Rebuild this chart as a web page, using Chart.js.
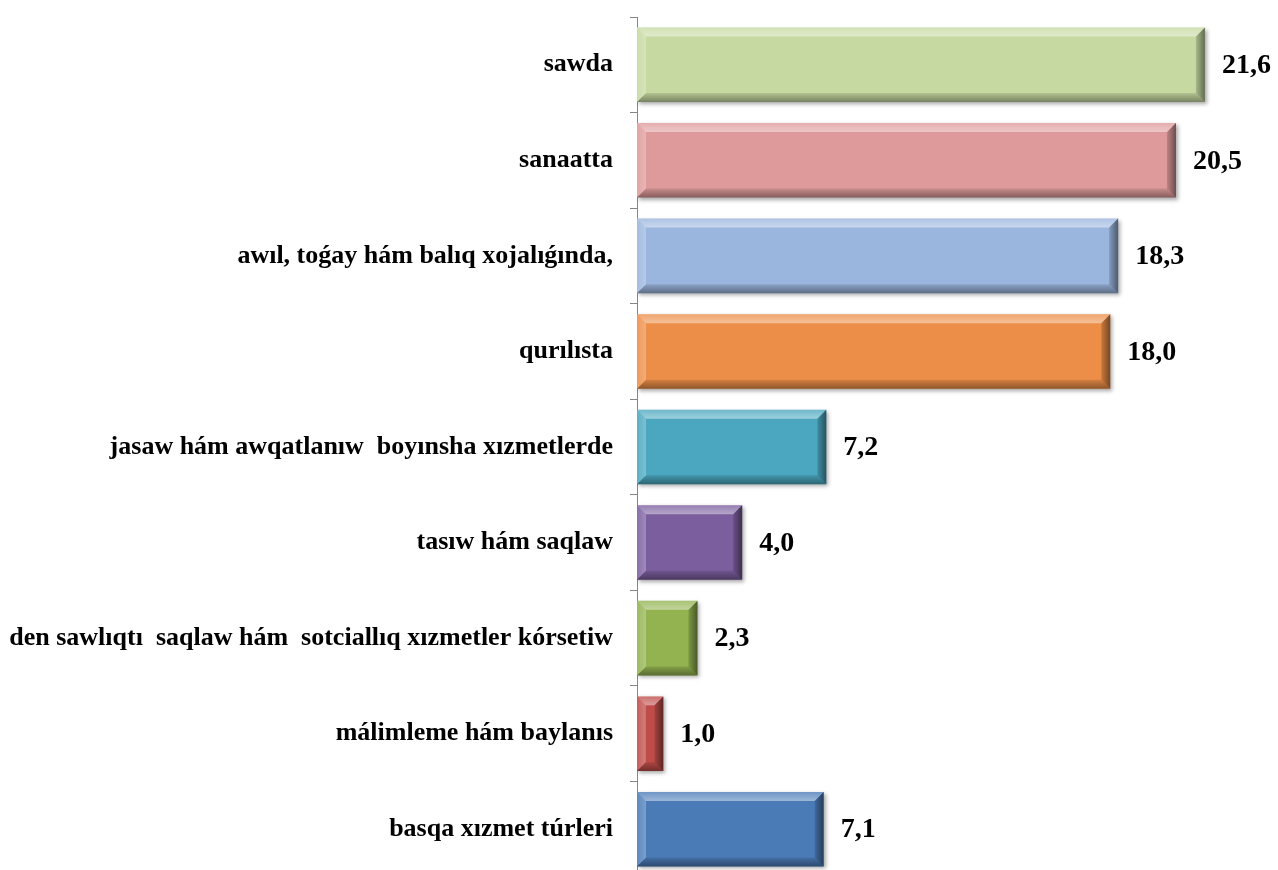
<!DOCTYPE html>
<html>
<head>
<meta charset="utf-8">
<script src="https://cdn.jsdelivr.net/npm/chart.js@4"></script>
<style>
html,body{margin:0;padding:0;background:#fff;overflow:hidden;}
#wrap{width:1278px;height:877px;}
</style>
</head>
<body>
<div id="wrap"><canvas id="c" width="1278" height="877"></canvas></div>
<script>
const categories = [
  "sawda",
  "sanaatta",
  "awıl, toǵay hám balıq xojalıǵında,",
  "qurılısta",
  "jasaw hám awqatlanıw  boyınsha xızmetlerde",
  "tasıw hám saqlaw",
  "den sawlıqtı  saqlaw hám  sotciallıq xızmetler kórsetiw",
  "málimleme hám baylanıs",
  "basqa xızmet túrleri"
];
const values = [21.6, 20.5, 18.3, 18.0, 7.2, 4.0, 2.3, 1.0, 7.1];
const barColors = ["#C6D9A1", "#DE9A9A", "#9BB6DE", "#EC8E47", "#4BA7BF", "#7B5E9E", "#92B34F", "#BF4C49", "#4B7BB7"];
const xMax = 24;

const shadowPlugin = {
  id: 'shadow',
  beforeDatasetDraw(chart) {
    const ctx = chart.ctx;
    ctx.save();
    ctx.shadowColor = 'rgba(0,0,0,0.35)';
    ctx.shadowBlur = 4;
    ctx.shadowOffsetX = 2;
    ctx.shadowOffsetY = 2;
  },
  afterDatasetDraw(chart) {
    chart.ctx.restore();
  }
};

const bevelPlugin = {
  id: 'bevel',
  afterDatasetsDraw(chart) {
    const ctx = chart.ctx;
    const meta = chart.getDatasetMeta(0);
    meta.data.forEach((bar) => {
      const p = bar.getProps(['x', 'y', 'base', 'height'], true);
      const l = Math.min(p.base, p.x), r = Math.max(p.base, p.x);
      const t = p.y - p.height / 2, b = p.y + p.height / 2;
      const w = r - l;
      const bv = Math.min(9, w / 3);
      function poly(pts, fill) {
        ctx.beginPath();
        ctx.moveTo(pts[0][0], pts[0][1]);
        for (let k = 1; k < pts.length; k++) ctx.lineTo(pts[k][0], pts[k][1]);
        ctx.closePath();
        ctx.fillStyle = fill;
        ctx.fill();
      }
      ctx.save();
      let g = ctx.createLinearGradient(0, t, 0, t + bv);
      g.addColorStop(0, 'rgba(255,255,255,0.2)');
      g.addColorStop(1, 'rgba(255,255,255,0.45)');
      poly([[l, t], [r, t], [r - bv, t + bv], [l + bv, t + bv]], g);
      g = ctx.createLinearGradient(l, 0, l + bv, 0);
      g.addColorStop(0, 'rgba(255,255,255,0.1)');
      g.addColorStop(1, 'rgba(255,255,255,0.28)');
      poly([[l, t], [l + bv, t + bv], [l + bv, b - bv], [l, b]], g);
      g = ctx.createLinearGradient(r - bv, 0, r, 0);
      g.addColorStop(0, 'rgba(0,0,0,0.15)');
      g.addColorStop(1, 'rgba(0,0,0,0.5)');
      poly([[r, t], [r, b], [r - bv, b - bv], [r - bv, t + bv]], g);
      g = ctx.createLinearGradient(0, b - bv, 0, b);
      g.addColorStop(0, 'rgba(0,0,0,0.1)');
      g.addColorStop(1, 'rgba(0,0,0,0.4)');
      poly([[l, b], [r, b], [r - bv, b - bv], [l + bv, b - bv]], g);
      ctx.restore();
    });
  }
};

const valueLabelPlugin = {
  id: 'valueLabels',
  afterDatasetsDraw(chart) {
    const ctx = chart.ctx;
    const meta = chart.getDatasetMeta(0);
    ctx.save();
    ctx.font = 'bold 28px "Liberation Serif", "Times New Roman", serif';
    ctx.fillStyle = '#000';
    ctx.textAlign = 'left';
    ctx.textBaseline = 'middle';
    meta.data.forEach((bar, i) => {
      const txt = values[i].toFixed(1).replace('.', ',');
      ctx.fillText(txt, bar.x + 17, bar.y + 1);
    });
    ctx.restore();
  }
};

new Chart(document.getElementById('c'), {
  type: 'bar',
  data: {
    labels: categories,
    datasets: [{
      data: values,
      backgroundColor: barColors,
      borderWidth: 0,
      categoryPercentage: 0.78,
      barPercentage: 1.0
    }]
  },
  options: {
    indexAxis: 'y',
    responsive: false,
    animation: false,
    devicePixelRatio: 1,
    layout: { padding: { top: 17, right: 10, left: 0, bottom: 0 } },
    plugins: { legend: { display: false }, tooltip: { enabled: false } },
    scales: {
      x: { display: false, min: 0, max: xMax },
      y: {
        afterFit(scale) { scale.width = 637; scale.paddingTop = 0; scale.paddingBottom = 0; },
        border: { display: true, color: '#868686', width: 1 },
        grid: { display: true, drawOnChartArea: false, drawTicks: true, tickLength: 7, color: '#868686', offset: true },
        ticks: {
          color: '#000',
          padding: 17,
          font: { family: '"Liberation Serif", "Times New Roman", serif', size: 26, weight: 'bold' }
        }
      }
    }
  },
  plugins: [shadowPlugin, bevelPlugin, valueLabelPlugin]
});
</script>
</body>
</html>
